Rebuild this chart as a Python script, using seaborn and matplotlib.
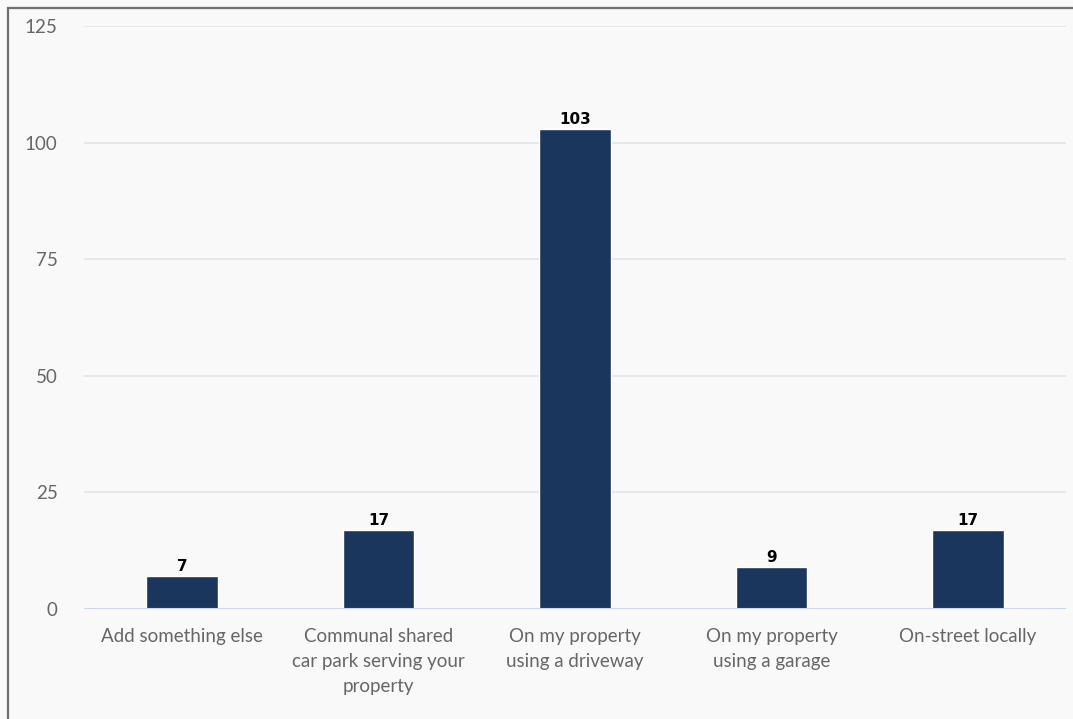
import matplotlib
matplotlib.use("Agg")
import matplotlib.pyplot as plt
import seaborn as sns
import pandas as pd
from matplotlib.patches import Rectangle

categories = [
    "Add something else",
    "Communal shared\ncar park serving your\nproperty",
    "On my property\nusing a driveway",
    "On my property\nusing a garage",
    "On-street locally",
]
counts = [7, 17, 103, 9, 17]
y_ticks = [0, 25, 50, 75, 100, 125]

df = pd.DataFrame({"category": categories, "count": counts})

sns.set_theme(style="white")
plt.rcParams["font.family"] = ["Lato", "DejaVu Sans"]

bg = "#f9f9f9"
fig = plt.figure(figsize=(10.73, 7.19), dpi=100, facecolor=bg)
ax = fig.add_axes([84 / 1073, 1 - 609 / 719, (1066 - 84) / 1073, (609 - 26) / 719])
ax.set_facecolor(bg)

sns.barplot(data=df, x="category", y="count", color="#1b365d", width=0.365,
            saturation=1, ax=ax, zorder=3)

ax.set_ylim(0, 125)
ax.set_xlim(-0.5, len(categories) - 0.5)
ax.set_yticks(y_ticks)
ax.grid(axis="y", color="#e4e4e4", linewidth=1.2, zorder=0)
ax.grid(axis="x", visible=False)
ax.axhline(0, color="#c9d6ec", linewidth=1.5, zorder=4)
for s in ax.spines.values():
    s.set_visible(False)
ax.set_xlabel("")
ax.set_ylabel("")
ax.tick_params(axis="both", length=0, labelsize=13.5, labelcolor="#666666")
ax.tick_params(axis="y", pad=19)
ax.tick_params(axis="x", pad=14)
for lab in ax.get_xticklabels():
    lab.set_linespacing(1.55)

for i, v in enumerate(counts):
    ax.annotate(str(v), (i, v), xytext=(0, 1.5), textcoords="offset points",
                ha="center", va="bottom", fontsize=11, fontweight="bold",
                color="#000000", family="DejaVu Sans")

# outer frame
fig.patches.append(Rectangle((8 / 1073, -0.1), 1.2, 1.1 - 8 / 719,
                             transform=fig.transFigure, fill=False,
                             edgecolor="#707070", linewidth=1.6))

fig.savefig("out.png", dpi=100, facecolor=bg)
